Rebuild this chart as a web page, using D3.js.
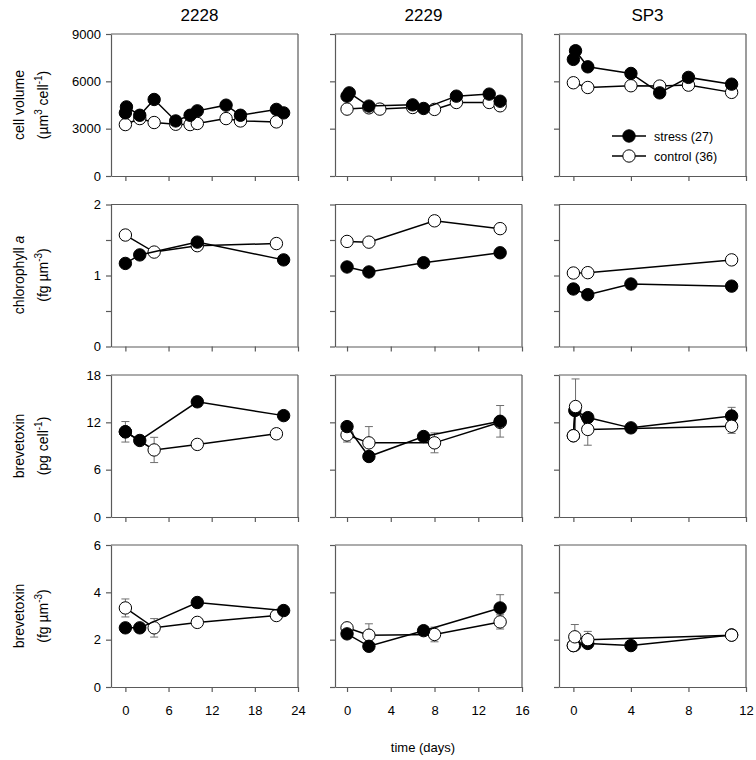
<!DOCTYPE html>
<html><head><meta charset="utf-8">
<script src="https://cdn.jsdelivr.net/npm/d3@7"></script>
<style>body{margin:0;background:#fff} text{font-family:"Liberation Sans",Arial,sans-serif;fill:#000}</style>
</head><body><svg id="c" width="756" height="760"></svg>
<script>
// ---------- categories / axes ----------
const strains = ["2228", "2229", "SP3"];
const xDomains = [[-2, 24], [-1.1, 16], [-1, 12]];
const xTicks = [[0, 6, 12, 18, 24], [0, 4, 8, 12, 16], [0, 4, 8, 12]];
const yDomains = [[0, 9000], [0, 2], [0, 18], [0, 6]];
const yTicks = [[0, 3000, 6000, 9000], [0, 0.5, 1, 1.5, 2], [0, 6, 12, 18], [0, 2, 4, 6]];
const yTickLabels = [["0", "3000", "6000", "9000"], ["0", "", "1", "", "2"], ["0", "6", "12", "18"], ["0", "2", "4", "6"]];
const legendLabels = ["stress (27)", "control (36)"];
const xTitle = "time (days)";

// ---------- Row 1: cell volume (µm3 cell-1) ----------
const volStressDays = [[0, 0.15, 2, 4, 7, 9, 10, 14, 16, 21, 22], [0, 0.2, 2, 6, 7, 10, 13, 14], [0, 0.15, 1, 4, 6, 8, 11]];
const volStressVals = [[4000, 4380, 3850, 4850, 3490, 3850, 4130, 4490, 3850, 4220, 4000], [5060, 5270, 4430, 4510, 4280, 5060, 5190, 4740], [7390, 7940, 6920, 6500, 5270, 6250, 5820]];
const volControlDays = [[0, 2, 4, 7, 9, 10, 14, 16, 21], [0, 2, 3, 6, 8, 10, 13, 14], [0, 1, 4, 6, 8, 11]];
const volControlVals = [[3260, 3640, 3390, 3280, 3260, 3330, 3640, 3490, 3430], [4240, 4320, 4240, 4340, 4220, 4660, 4660, 4450], [5910, 5610, 5720, 5700, 5760, 5300]];

// ---------- Row 2: chlorophyll a (fg µm-3) ----------
const chlStressDays = [[0, 2, 10, 22], [0, 2, 7, 14], [0, 1, 4, 11]];
const chlStressVals = [[1.17, 1.29, 1.47, 1.22], [1.12, 1.05, 1.18, 1.32], [0.81, 0.73, 0.88, 0.85]];
const chlControlDays = [[0, 4, 10, 21], [0, 2, 8, 14], [0, 1, 11]];
const chlControlVals = [[1.57, 1.33, 1.42, 1.45], [1.48, 1.47, 1.77, 1.66], [1.035, 1.04, 1.22]];

// ---------- Row 3: brevetoxin (pg cell-1) ----------
const btcStressDays = [[0, 2, 10, 22], [0, 2, 7, 14], [0, 0.1, 1, 4, 11]];
const btcStressVals = [[10.8, 9.7, 14.6, 12.85], [11.46, 7.67, 10.2, 12.13], [10.3, 13.5, 12.6, 11.3, 12.8]];
const btcStressErr = [[1.3, 0, 0.6, 0], [0, 0, 0, 2.0], [0, 0, 0, 0, 1.1]];
const btcControlDays = [[0, 4, 10, 21], [0, 2, 8, 14], [0, 0.15, 1, 11]];
const btcControlVals = [[10.8, 8.5, 9.2, 10.55], [10.4, 9.4, 9.4, 12.0], [10.3, 14.0, 11.1, 11.5]];
const btcControlErr = [[0, 1.6, 0, 0], [0.9, 2.06, 1.26, 0], [0, 3.5, 2.0, 0.9]];

// ---------- Row 4: brevetoxin (fg µm-3) ----------
const btvStressDays = [[0, 2, 10, 22], [0, 2, 7, 14], [0, 0.1, 1, 4, 11]];
const btvStressVals = [[2.5, 2.5, 3.57, 3.23], [2.245, 1.72, 2.38, 3.34], [1.75, 1.77, 1.84, 1.75, 2.2]];
const btvStressErr = [[0, 0, 0, 0], [0, 0, 0, 0.56], [0, 0, 0, 0, 0]];
const btvControlDays = [[0, 4, 10, 21], [0, 2, 8, 14], [0, 0.1, 1, 11]];
const btvControlVals = [[3.34, 2.5, 2.73, 3.02], [2.5, 2.19, 2.22, 2.75], [1.75, 2.12, 2.0, 2.19]];
const btvControlErr = [[0.38, 0.39, 0, 0], [0, 0.48, 0.31, 0.3], [0, 0.52, 0.35, 0]];

// which panels draw control symbols above stress symbols
const controlOnTop = [[0, 0, 0], [0, 0, 0], [0, 0, 1], [0, 0, 1]];

// ---------- assemble ----------
const rows = [
  {sd: volStressDays, sv: volStressVals, se: null, cd: volControlDays, cv: volControlVals, ce: null},
  {sd: chlStressDays, sv: chlStressVals, se: null, cd: chlControlDays, cv: chlControlVals, ce: null},
  {sd: btcStressDays, sv: btcStressVals, se: btcStressErr, cd: btcControlDays, cv: btcControlVals, ce: btcControlErr},
  {sd: btvStressDays, sv: btvStressVals, se: btvStressErr, cd: btvControlDays, cv: btvControlVals, ce: btvControlErr}
];

const svg = d3.select("#c");
const colLeft = [111, 335, 559];
const panelW = 187;
const rowTop = [34, 204.5, 375, 545];
const panelH = 142;
const axisColor = "#5a5a5a";
const R = 6.2;

function series(days, vals, errs) {
  return days.map((d, i) => ({d: d, v: vals[i], e: errs ? errs[i] : 0}));
}

rows.forEach((row, r) => {
  strains.forEach((s, c) => {
    const x = d3.scaleLinear().domain(xDomains[c]).range([colLeft[c], colLeft[c] + panelW]);
    const y = d3.scaleLinear().domain(yDomains[r]).range([rowTop[r] + panelH, rowTop[r]]);
    const g = svg.append("g");

    // frame top & right
    g.append("line").attr("x1", x.range()[0]).attr("x2", x.range()[1]).attr("y1", y.range()[1]).attr("y2", y.range()[1])
      .attr("stroke", axisColor).attr("stroke-width", 1.2);
    g.append("line").attr("x1", x.range()[1]).attr("x2", x.range()[1]).attr("y1", y.range()[0]).attr("y2", y.range()[1])
      .attr("stroke", axisColor).attr("stroke-width", 1.2);

    const ya = g.append("g").attr("transform", `translate(${x.range()[0]},0)`)
      .call(d3.axisLeft(y).tickValues(yTicks[r]).tickSize(5).tickSizeOuter(0).tickPadding(5)
        .tickFormat((d, i) => c === 0 ? yTickLabels[r][i] : ""));
    const xa = g.append("g").attr("transform", `translate(0,${y.range()[0]})`)
      .call(d3.axisBottom(x).tickValues(xTicks[c]).tickSize(5).tickSizeOuter(0).tickPadding(14)
        .tickFormat(d => r === 3 ? String(d) : ""));
    [ya, xa].forEach(a => {
      a.selectAll("path,line").attr("stroke", axisColor).attr("stroke-width", 1.2);
      a.selectAll("text").attr("font-size", 13).attr("font-family", "Liberation Sans, Arial, sans-serif").attr("fill", "#000");
    });

    const S = series(row.sd[c], row.sv[c], row.se ? row.se[c] : null);
    const C = series(row.cd[c], row.cv[c], row.ce ? row.ce[c] : null);
    const line = d3.line().x(p => x(p.d)).y(p => y(p.v));

    // error bars (behind)
    [S, C].forEach(arr => {
      arr.filter(p => p.e > 0).forEach(p => {
        const eg = g.append("g").attr("stroke", "#6e6e6e").attr("stroke-width", 1);
        eg.append("line").attr("x1", x(p.d)).attr("x2", x(p.d)).attr("y1", y(p.v - p.e)).attr("y2", y(p.v + p.e));
        [p.v - p.e, p.v + p.e].forEach(v => eg.append("line").attr("x1", x(p.d) - 4).attr("x2", x(p.d) + 4).attr("y1", y(v)).attr("y2", y(v)));
      });
    });

    const drawSeries = (arr, filled) => {
      g.append("path").attr("d", line(arr)).attr("fill", "none").attr("stroke", "#000").attr("stroke-width", 1.5);
      g.selectAll(null).data(arr).enter().append("circle")
        .attr("cx", p => x(p.d)).attr("cy", p => y(p.v)).attr("r", R)
        .attr("fill", filled ? "#000" : "#fff").attr("stroke", "#000").attr("stroke-width", 1);
    };
    if (controlOnTop[r][c]) { drawSeries(S, true); drawSeries(C, false); }
    else { drawSeries(C, false); drawSeries(S, true); }

    if (r === 0) {
      svg.append("text").attr("x", (x.range()[0] + x.range()[1]) / 2 - 5).attr("y", 21)
        .attr("text-anchor", "middle").attr("font-size", 17).text(s);
    }
    if (r === 0 && c === 2) {
      legendLabels.forEach((lab, i) => {
        const ly = 136 + i * 20;
        svg.append("line").attr("x1", 612).attr("x2", 646).attr("y1", ly).attr("y2", ly).attr("stroke", "#000").attr("stroke-width", 1.5);
        svg.append("circle").attr("cx", 629).attr("cy", ly).attr("r", R).attr("fill", i === 0 ? "#000" : "#fff").attr("stroke", "#000");
        svg.append("text").attr("x", 654).attr("y", ly + 4.5).attr("font-size", 12.5).text(lab);
      });
    }
  });
});

// y titles
const yTitleCenters = [105, 275, 446, 616];
function yTitle(cy, line1, line2) {
  const t1 = svg.append("text").attr("transform", `translate(24,${cy}) rotate(-90)`).attr("text-anchor", "middle").attr("font-size", 14);
  line1(t1);
  const t2 = svg.append("text").attr("transform", `translate(48,${cy}) rotate(-90)`).attr("text-anchor", "middle").attr("font-size", 14);
  line2(t2);
}
const sup = (t, s) => t.append("tspan").attr("font-size", 10).attr("dy", -6).text(s);
const down = (t, s) => t.append("tspan").attr("dy", 6).text(s);
yTitle(yTitleCenters[0], t => t.text("cell volume"), t => {
  t.append("tspan").text("(µm"); sup(t, "3"); down(t, " cell"); sup(t, "-1"); down(t, ")");
});
yTitle(yTitleCenters[1], t => { t.append("tspan").text("chlorophyll "); t.append("tspan").attr("font-style", "italic").text("a"); }, t => {
  t.append("tspan").text("(fg µm"); sup(t, "-3"); down(t, ")");
});
yTitle(yTitleCenters[2], t => t.text("brevetoxin"), t => {
  t.append("tspan").text("(pg cell"); sup(t, "-1"); down(t, ")");
});
yTitle(yTitleCenters[3], t => t.text("brevetoxin"), t => {
  t.append("tspan").text("(fg µm"); sup(t, "-3"); down(t, ")");
});

svg.append("text").attr("x", 423).attr("y", 752).attr("text-anchor", "middle").attr("font-size", 13).text(xTitle);
</script></body></html>
